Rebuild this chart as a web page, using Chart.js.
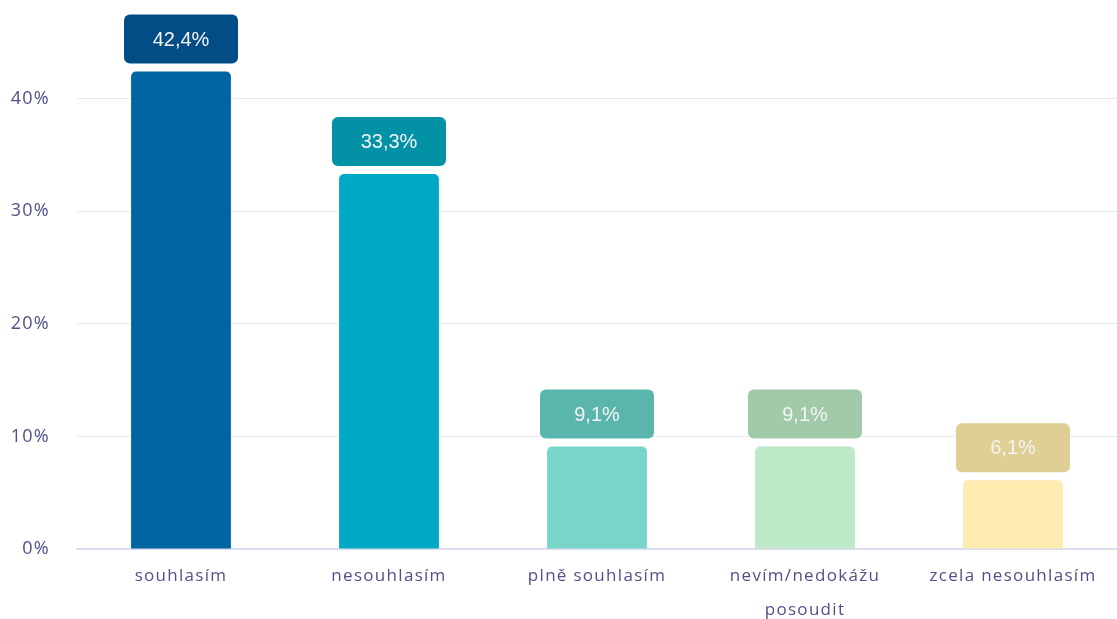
<!DOCTYPE html>
<html>
<head>
<meta charset="utf-8">
<script src="https://cdn.jsdelivr.net/npm/chart.js@4/dist/chart.umd.min.js"></script>
<style>
  html, body { margin: 0; padding: 0; background: #fff; }
  #wrap { width: 1117px; height: 619px; position: relative; }
</style>
</head>
<body>
<div id="wrap"><canvas id="chart"></canvas></div>
<script>
// Data
const categories = ["souhlasím", "nesouhlasím", "plně souhlasím", ["nevím/nedokážu", "posoudit"], "zcela nesouhlasím"];
const values = [42.4, 33.3, 9.1, 9.1, 6.1];
const barColors = ["#0065a0", "#00aac4", "#78d5ca", "#bde9c9", "#feebb0"];
const labelColors = ["#034d86", "#0391a6", "#5ab6ad", "#a0caa8", "#dfcf94"];
const yTicks = [0, 10, 20, 30, 40];

// wider letter spacing for the axis text (canvas resize resets it, so set it each pass)
const spacing = {
  id: "spacing",
  beforeLayout(chart) { chart.ctx.letterSpacing = "1.3px"; },
  beforeDraw(chart) { chart.ctx.letterSpacing = "1.3px"; }
};

// draws the rounded value boxes above each bar
const valueBoxes = {
  id: "valueBoxes",
  afterDatasetsDraw(chart) {
    const ctx = chart.ctx;
    const meta = chart.getDatasetMeta(0);
    meta.data.forEach((bar, i) => {
      const w = 114, h = 49, gap = 8;
      const x = bar.x - w / 2;
      const y = bar.y - gap - h;
      ctx.save();
      ctx.letterSpacing = "0px";
      ctx.fillStyle = labelColors[i];
      ctx.beginPath();
      ctx.roundRect(x, y, w, h, 6);
      ctx.fill();
      ctx.fillStyle = "#f4f4f4";
      ctx.font = "20px 'Liberation Sans'";
      ctx.textAlign = "center";
      ctx.textBaseline = "middle";
      ctx.fillText(values[i].toFixed(1).replace(".", ",") + "%", bar.x, y + h / 2 + 1);
      ctx.restore();
    });
  }
};

new Chart(document.getElementById("chart"), {
  type: "bar",
  data: {
    labels: categories,
    datasets: [{
      data: values,
      backgroundColor: barColors,
      borderRadius: 5,
      categoryPercentage: 1,
      barPercentage: 0.48
    }]
  },
  options: {
    responsive: true,
    maintainAspectRatio: false,
    animation: false,
    layout: { padding: 0 },
    plugins: { legend: { display: false }, tooltip: { enabled: false } },
    scales: {
      x: {
        afterFit: s => { s.height = 70; },
        grid: { display: false },
        border: { color: "#dcdcef", width: 2 },
        ticks: {
          color: "#50508a",
          font: { family: "Open Sans", size: 17, lineHeight: 1.95 },
          padding: 3,
          maxRotation: 0
        }
      },
      y: {
        min: 0,
        max: 45.4,
        afterBuildTicks: s => { s.ticks = yTicks.map(v => ({ value: v })); },
        afterFit: s => { s.width = 77; },
        border: { display: false },
        grid: { color: "#e9e9f0", lineWidth: 1, drawTicks: false },
        ticks: {
          color: "#50508a",
          font: { family: "Open Sans", size: 18 },
          padding: 27,
          callback: v => v + "%"
        }
      }
    }
  },
  plugins: [spacing, valueBoxes]
});
</script>
</body>
</html>
